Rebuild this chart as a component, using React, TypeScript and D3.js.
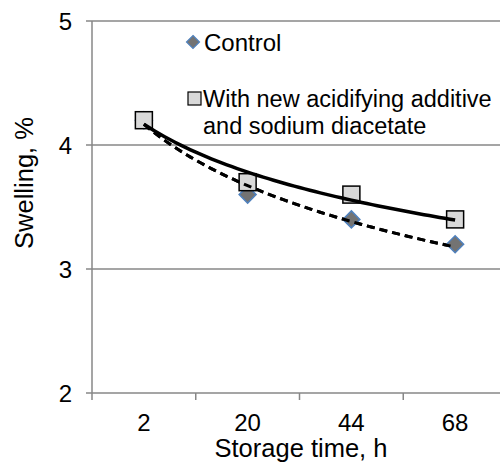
import React from "react";
import * as d3 from "d3";

const categories = ["2", "20", "44", "68"];
const controlValues = [4.2, 3.6, 3.4, 3.2];
const additiveValues = [4.2, 3.7, 3.6, 3.4];
const yTicks = [2, 3, 4, 5];
const legendLabels = ["Control", "With new acidifying additive", "and sodium diacetate"];

const W = 500;
const H = 469;
const FONT = "'Liberation Sans', Arial, sans-serif";

function logFit(vals: number[]) {
  const xs = vals.map((_, i) => Math.log(i + 1));
  const mx = d3.mean(xs)!;
  const my = d3.mean(vals)!;
  let sxx = 0, sxy = 0;
  xs.forEach((x, i) => { sxx += (x - mx) ** 2; sxy += (x - mx) * (vals[i] - my); });
  const b = sxy / sxx;
  const a = my - b * mx;
  return (t: number) => a + b * Math.log(t);
}

export default function App() {
  const left = 92, right = 507, top = 21, bottom = 393;
  const x = d3.scaleLinear().domain([0.5, 4.5]).range([left, right]);
  const y = d3.scaleLinear().domain([2, 5]).range([bottom, top]);
  const grid = "#878787";

  const tGrid = d3.range(1, 4.0001, 0.05);
  const fc = logFit(controlValues);
  const fa = logFit(additiveValues);
  const pathFor = (f: (t: number) => number) =>
    d3.line<number>().x(t => x(t)).y(t => y(f(t)))(tGrid) as string;

  const diamond = (cx: number, cy: number, r: number) =>
    `M${cx},${cy - r}L${cx + r},${cy}L${cx},${cy + r}L${cx - r},${cy}Z`;

  return (
    <svg width={W} height={H} style={{ position: "absolute", left: 0, top: 0, background: "#fff" }}>
      <rect width={W} height={H} fill="#fff" />
      {yTicks.map(v => (
        <line key={v} x1={left - 6} x2={W} y1={y(v)} y2={y(v)} stroke={grid} strokeWidth={1.5} />
      ))}
      <line x1={left} x2={left} y1={top} y2={bottom} stroke={grid} strokeWidth={1.5} />
      {d3.range(0, 5).map(i => (
        <line key={i} x1={x(i + 0.5)} x2={x(i + 0.5)} y1={bottom} y2={bottom + 7} stroke={grid} strokeWidth={1.5} />
      ))}
      {yTicks.map(v => (
        <text key={v} x={left - 20} y={y(v) + 8.5} textAnchor="end" fontFamily={FONT} fontSize={24} fill="#000">{v}</text>
      ))}
      {categories.map((c, i) => (
        <text key={c} x={x(i + 1)} y={431} textAnchor="middle" fontFamily={FONT} fontSize={24} fill="#000">{c}</text>
      ))}
      <text x={301} y={457} textAnchor="middle" fontFamily={FONT} fontSize={25.5} fill="#000">Storage time, h</text>
      <text transform={`translate(33,183) rotate(-90)`} textAnchor="middle" fontFamily={FONT} fontSize={25.5} fill="#000">Swelling, %</text>

      <path d={pathFor(fc)} fill="none" stroke="#000" strokeWidth={3} strokeDasharray="8,5" />

      {controlValues.map((v, i) => (
        <path key={"c" + i} d={diamond(x(i + 1), y(v), 8.5)} fill="#737373" stroke="#4f81bd" strokeWidth={1.5} />
      ))}
      {additiveValues.map((v, i) => (
        <rect key={"a" + i} x={x(i + 1) - 8.5} y={y(v) - 8.5} width={17} height={17} fill="#d9d9d9" stroke="#000" strokeWidth={1.5} />
      ))}
      <path d={pathFor(fc)} fill="none" stroke="#000" strokeWidth={3} strokeDasharray="8,5" />
      <path d={pathFor(fa)} fill="none" stroke="#000" strokeWidth={3.5} />

      <path d={diamond(193, 42, 6.5)} fill="#737373" stroke="#4f81bd" strokeWidth={1.2} />
      <text x={204} y={51} fontFamily={FONT} fontSize={24} fill="#000">{legendLabels[0]}</text>
      <rect x={188} y={92} width={13} height={13} fill="#d9d9d9" stroke="#000" strokeWidth={1.2} />
      <text x={203} y={106.5} fontFamily={FONT} fontSize={23.5} fill="#000">{legendLabels[1]}</text>
      <text x={203} y={133.5} fontFamily={FONT} fontSize={23.5} fill="#000">{legendLabels[2]}</text>
    </svg>
  );
}
